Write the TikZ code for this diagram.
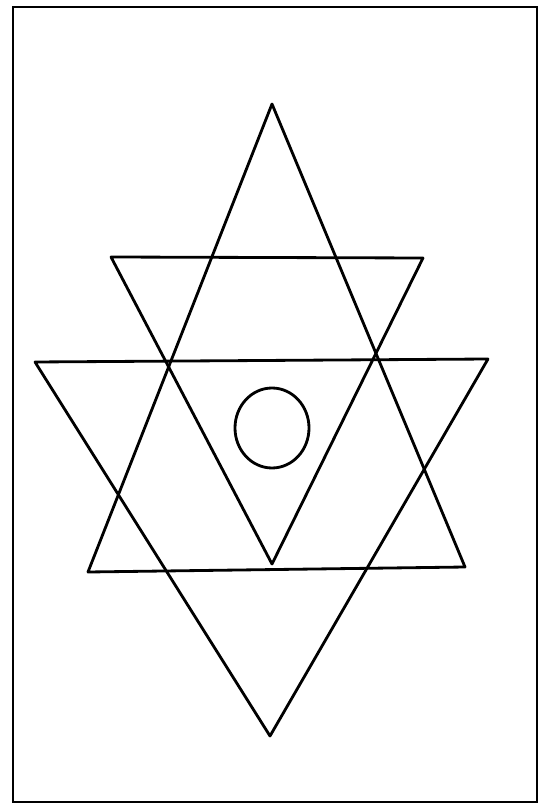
\documentclass[tikz,border=0pt]{standalone}
\usepackage{tikz}

\tikzset{
  frameline/.style={line width=1.2pt},
  figline/.style={line width=1.6pt, line join=round}
}

\begin{document}
\begin{tikzpicture}[x=0.02cm, y=-0.02cm]
  \useasboundingbox (0,0) rectangle (543,810);
  % Frame round the figure.
  \draw[frameline] (13,7) rectangle (537,802);
  % Corners of the big upward triangle.
  \coordinate (upTop)   at (272,104);
  \coordinate (upLeft)  at (88,572);
  \coordinate (upRight) at (465,567);
  % Corners of the big downward triangle.
  \coordinate (dnLeft)  at (35,362);
  \coordinate (dnRight) at (488,359);
  \coordinate (dnTip)   at (270,736);
  % Corners of the small downward triangle.
  \coordinate (inLeft)  at (111,257);
  \coordinate (inRight) at (423,258);
  \coordinate (inTip)   at (272,564);
  % The three triangles.
  \draw[figline] (upTop) -- (upLeft) -- (upRight) -- cycle;
  \draw[figline] (dnLeft) -- (dnRight) -- (dnTip) -- cycle;
  \draw[figline] (inLeft) -- (inRight) -- (inTip) -- cycle;
  % Circle in the middle.
  \draw[figline] (272,428) circle[x radius=37, y radius=40];
\end{tikzpicture}
\end{document}
